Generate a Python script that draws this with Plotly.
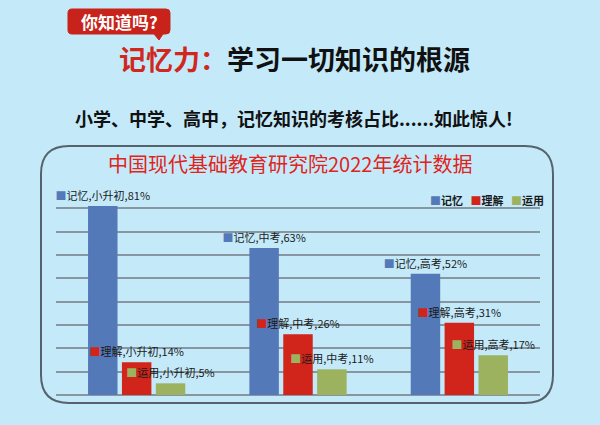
import plotly.graph_objects as go

# ---- data ----
categories = ["小升初", "中考", "高考"]
series_names = ["记忆", "理解", "运用"]
memory_vals = [81, 63, 52]
understand_vals = [14, 26, 31]
apply_vals = [5, 11, 17]
series_colors = ["#5479B8", "#D1241B", "#9CB25F"]

W, H = 600, 425
BG = "#C4EAFA"
FONT = "Noto Sans CJK SC"


def px(x):
    return x / W


def py(y):
    return 1 - y / H


def P(x, y):
    return f"{px(x):.5f},{py(y):.5f}"


fig = go.Figure()
for name, vals, col in zip(series_names, [memory_vals, understand_vals, apply_vals], series_colors):
    texts = [f"<span style='color:{col}'>■</span>{name},{c},{v}%" for c, v in zip(categories, vals)]
    fig.add_trace(go.Bar(
        x=categories, y=vals, name=name,
        marker=dict(color=col, line=dict(width=0)),
        text=texts, textposition="outside", constraintext="none",
        textfont=dict(family=FONT, size=11, color="#1a1a1a"),
        cliponaxis=False, showlegend=False,
    ))

# rounded panel
l, r_, t, b, r = 41, 553, 146, 403, 28
panel = (f"M{P(l+r,t)} L{P(r_-r,t)} Q{P(r_,t)} {P(r_,t+r)} L{P(r_,b-r)} Q{P(r_,b)} {P(r_-r,b)} "
         f"L{P(l+r,b)} Q{P(l,b)} {P(l,b-r)} L{P(l,t+r)} Q{P(l,t)} {P(l+r,t)} Z")
# speech box
bl, br, bt, bb, rr = 68, 170, 9, 34, 4
box = (f"M{P(bl+rr,bt)} L{P(br-rr,bt)} Q{P(br,bt)} {P(br,bt+rr)} L{P(br,bb-rr)} Q{P(br,bb)} {P(br-rr,bb)} "
       f"L{P(163,bb)} L{P(159,40)} L{P(154,bb)} L{P(bl+rr,bb)} Q{P(bl,bb)} {P(bl,bb-rr)} L{P(bl,bt+rr)} "
       f"Q{P(bl,bt)} {P(bl+rr,bt)} Z")

shapes = [
    dict(type="path", path=panel, xref="paper", yref="paper",
         line=dict(color="#56626C", width=2), fillcolor="rgba(0,0,0,0)", layer="above"),
    dict(type="path", path=box, xref="paper", yref="paper",
         line=dict(color="#C8231A", width=1), fillcolor="#C8231A", layer="above"),
]

legend_txt = "&nbsp;&nbsp;&nbsp;".join(
    f"<span style='color:{c}'>■</span>{n}" for n, c in zip(series_names, series_colors))


def ann(text, x, y, size, color, xanchor="center", weight=None):
    f = dict(family=FONT, size=size, color=color)
    if weight:
        f["weight"] = weight
    return dict(text=text, x=px(x), y=py(y), xref="paper", yref="paper",
                xanchor=xanchor, yanchor="middle", showarrow=False, font=f)


annotations = [
    ann("<b>你知道吗?</b>", 119, 21.5, 17, "white"),
    ann("<b><span style='color:#D1281E'>记忆力：</span>学习一切知识的根源</b>", 294.5, 58, 27, "#111111"),
    ann("<b>小学、中学、高中，记忆知识的考核占比......如此惊人!</b>", 293.5, 118, 18, "#111111"),
    ann("中国现代基础教育研究院2022年统计数据", 290, 163, 20, "#E0231B"),
    ann(legend_txt, 546, 200, 11, "#1a1a1a", xanchor="right", weight="bold"),
]

fig.update_layout(
    width=W, height=H,
    margin=dict(l=0, r=0, t=0, b=0),
    paper_bgcolor=BG, plot_bgcolor=BG,
    barmode="group", bargap=0.37, bargroupgap=0.13,
    xaxis=dict(domain=[px(56), px(540)], showticklabels=False, ticks="",
               showgrid=False, zeroline=False, showline=False),
    yaxis=dict(domain=[py(395), py(185)], range=[0, 90], dtick=10,
               showticklabels=False, ticks="", showgrid=True,
               gridcolor="#8796A0", gridwidth=1.5,
               zeroline=True, zerolinecolor="#8796A0", zerolinewidth=1.5, showline=False),
    shapes=shapes, annotations=annotations,
    font=dict(family=FONT),
)

fig.write_html("out.html")
